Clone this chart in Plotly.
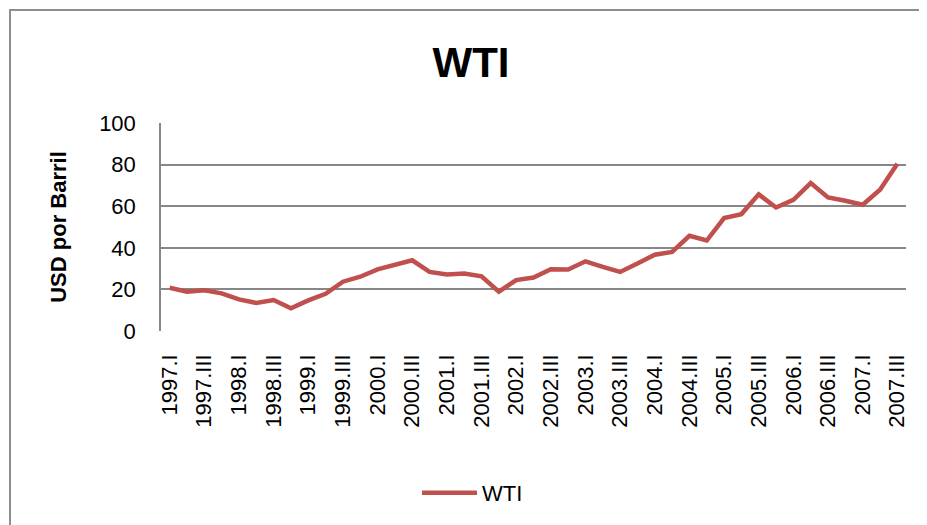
import plotly.graph_objects as go

quarters = []
for yr in range(1997, 2008):
    for q in ["I", "II", "III", "IV"]:
        quarters.append(f"{yr}.{q}")
quarters = quarters[:43]  # 1997.I .. 2007.III

wti = [20.8, 18.9, 19.6, 18.1, 15.2, 13.5, 14.9, 10.9, 14.7, 17.9,
       23.7, 26.1, 29.6, 31.7, 34.0, 28.4, 27.2, 27.6, 26.3, 18.9,
       24.5, 25.7, 29.7, 29.6, 33.5, 30.8, 28.4, 32.4, 36.7, 38.0,
       45.8, 43.5, 54.3, 56.2, 65.7, 59.4, 63.1, 71.1, 64.2, 62.6,
       60.7, 67.9, 80.4]

tick_labels = quarters[::2]
y_ticks = [0, 20, 40, 60, 80, 100]

FONT = "Liberation Sans, Arial, sans-serif"
GRID = "#878787"

# page body has an 8px margin; work in figure coordinates
OFF = 8
W, H = 927 - OFF, 525 - OFF
L, R, T, B = 161 - OFF, 906 - OFF, 123 - OFF, 331 - OFF
pw, ph = R - L, B - T

fig = go.Figure()
fig.add_trace(go.Scatter(
    x=quarters, y=wti, mode="lines", name="WTI",
    line=dict(color="#C0504D", width=4.5),
))

fig.update_layout(
    width=W, height=H,
    margin=dict(l=L, r=W - R, t=T, b=H - B, autoexpand=False),
    paper_bgcolor="white", plot_bgcolor="white",
    font=dict(family=FONT, size=22, color="black"),
    title=dict(text="<b>WTI</b>", font=dict(size=42, family=FONT, color="black"),
               xref="container", x=(471 - OFF) / W, xanchor="center",
               yref="container", y=1 - (62 - OFF) / H, yanchor="middle"),
    showlegend=True,
    legend=dict(orientation="h", x=(409 - L) / pw, xanchor="left",
                y=-(485 - B) / ph, yanchor="middle",
                font=dict(size=22, family=FONT), itemwidth=55,
                bgcolor="rgba(0,0,0,0)"),
    xaxis=dict(type="category", range=[-0.5, len(quarters) - 0.5],
               tickmode="array", tickvals=tick_labels,
               ticktext=tick_labels, tickangle=-90, showgrid=False,
               showline=False, ticks="", ticklabelstandoff=18,
               tickfont=dict(size=22, family=FONT), zeroline=False),
    yaxis=dict(range=[0, 100], tickvals=y_ticks, showgrid=True,
               gridcolor=GRID, gridwidth=1.5, showline=True,
               linecolor=GRID, linewidth=1.5, ticks="",
               ticklabelstandoff=19, zeroline=False,
               tickfont=dict(size=22, family=FONT),
               title=dict(text="<b>USD por Barril</b>", standoff=26,
                          font=dict(size=22, family=FONT))),
    shapes=[dict(type="rect", xref="paper", yref="paper",
                 x0=(10 - OFF - L) / pw, x1=(940 - L) / pw,
                 y0=-(540 - B) / ph, y1=(B - (10 - OFF)) / ph,
                 line=dict(color="#8E8E8E", width=2), fillcolor="rgba(0,0,0,0)",
                 layer="below")],
)

fig.write_html("out.html")
